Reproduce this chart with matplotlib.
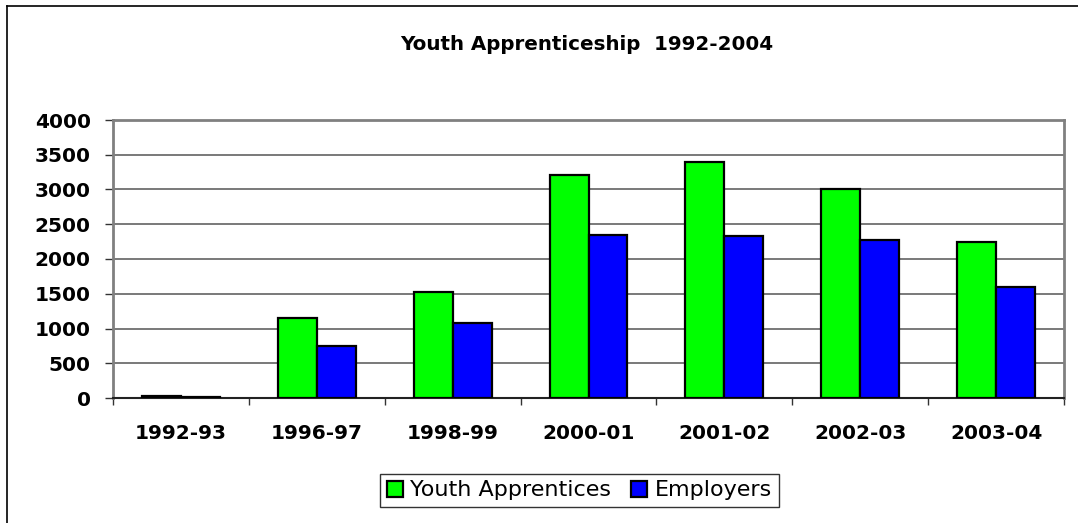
import matplotlib
matplotlib.use('Agg')
import matplotlib.pyplot as plt
from matplotlib.lines import Line2D
import numpy as np

# data
years = ['1992-93', '1996-97', '1998-99', '2000-01', '2001-02', '2002-03', '2003-04']
apprentices = [30, 1150, 1520, 3210, 3390, 3000, 2240]
employers = [15, 750, 1080, 2340, 2330, 2280, 1590]
y_ticks = [0, 500, 1000, 1500, 2000, 2500, 3000, 3500, 4000]

green = '#00FF00'
blue = '#0000FF'
grid_col = '#555555'
font = 'DejaVu Sans'

fig = plt.figure(figsize=(10.78, 5.23), dpi=100)
ax = fig.add_axes([113 / 1078, 1 - 398 / 523, (1064 - 113) / 1078, (398 - 120) / 523])

x = np.arange(len(years))
w = 0.287
ax.bar(x - w / 2, apprentices, w, color=green, edgecolor='black', linewidth=1.6,
       label='Youth Apprentices', zorder=3)
ax.bar(x + w / 2, employers, w, color=blue, edgecolor='black', linewidth=1.6,
       label='Employers', zorder=3)

ax.set_xlim(-0.5, len(years) - 0.5)
ax.set_ylim(0, 4000)
ax.set_yticks(y_ticks)
ax.set_yticklabels([str(v) for v in y_ticks], fontfamily=font, fontweight='bold', fontsize=14.5)
ax.yaxis.grid(True, color=grid_col, linewidth=1.1, zorder=0)
ax.tick_params(axis='y', direction='out', length=6, width=1, color='#333333', pad=10)

# labels at category centers, tick marks at category boundaries
ax.set_xticks(x)
ax.set_xticklabels(years, fontfamily=font, fontweight='bold', fontsize=14.5)
ax.tick_params(axis='x', which='major', length=0, pad=19)
ax.set_xticks(np.arange(len(years) + 1) - 0.5, minor=True)
ax.tick_params(axis='x', which='minor', direction='out', length=5, width=1, color='#333333')

for side in ['left', 'top', 'right']:
    ax.spines[side].set_color('#808080')
    ax.spines[side].set_linewidth(2)
ax.spines['bottom'].set_color('#222222')
ax.spines['bottom'].set_linewidth(1.5)

fig.text(587 / 1078, 1 - 45 / 523, 'Youth Apprenticeship  1992-2004', ha='center', va='center',
         fontfamily=font, fontweight='bold', fontsize=14.3)

leg = fig.legend(loc='center', bbox_to_anchor=(579.5 / 1078, 1 - 490.5 / 523), ncol=2,
                 prop={'family': font, 'size': 16}, frameon=True, fancybox=False,
                 edgecolor='black', handlelength=0.7, handleheight=0.7,
                 handletextpad=0.35, columnspacing=0.9, borderpad=0.3, borderaxespad=0)
leg.get_frame().set_linewidth(1)

# outer chart-area border (left and top edges show in the crop)
fig.add_artist(Line2D([7 / 1078, 7 / 1078], [0, 1 - 6 / 523], transform=fig.transFigure,
                      color='black', linewidth=1.2))
fig.add_artist(Line2D([7 / 1078, 1], [1 - 6 / 523, 1 - 6 / 523], transform=fig.transFigure,
                      color='black', linewidth=1.2))

fig.savefig('out.png', dpi=100, facecolor='white')
